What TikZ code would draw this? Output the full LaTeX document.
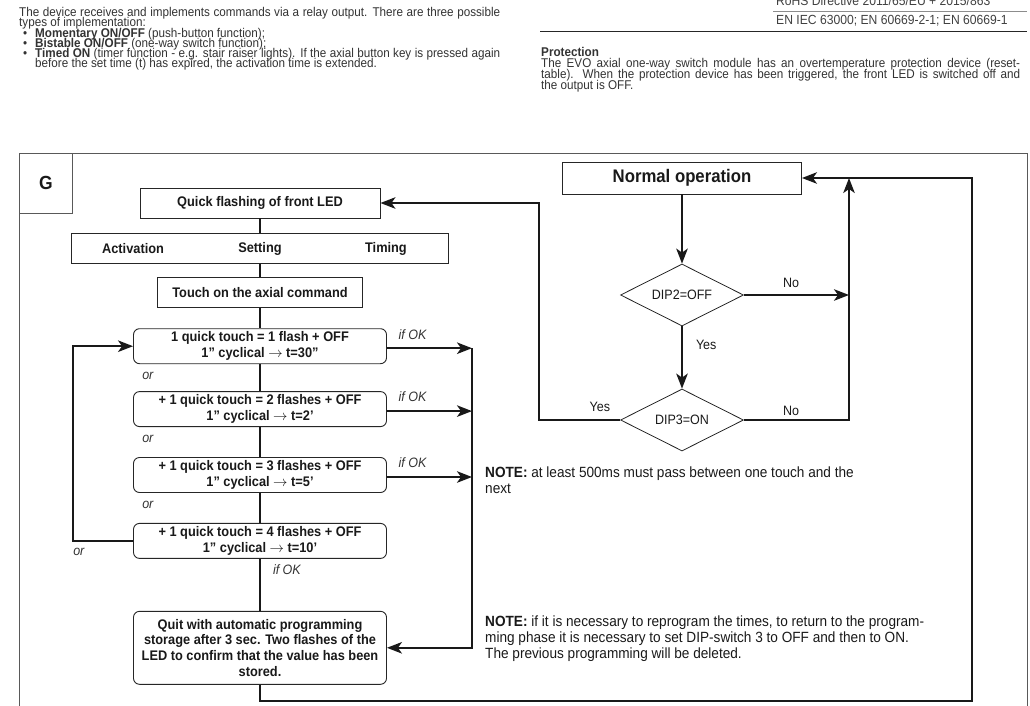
\documentclass[tikz,border=0pt]{standalone}
\usepackage{fontspec}
\setmainfont{Liberation Sans}[FakeStretch=0.92]
\usetikzlibrary{positioning,shapes.geometric,arrows.meta}

\newcommand{\blt}{\makebox[12pt]{•}\hspace{4pt}}

\begin{document}
\begin{tikzpicture}[x = 1pt, y = -1pt,
  every node/.style = {font = {\fontsize{13.9}{15.7}\selectfont\bfseries}, text = black!90, inner sep = 0pt},
  plainbox/.style = {rectangle, draw = black!85, line width = 0.9pt, align = center},
  rbox/.style = {plainbox, rounded corners = 6pt, minimum width = 253pt, minimum height = 35pt},
  dip/.style = {diamond, aspect = 2, draw = black!85, line width = 0.8pt,
    minimum width = 123pt, minimum height = 62pt, font = {\fontsize{13.6}{15}\selectfont}},
  lbl/.style = {font = {\fontsize{13.6}{15}\selectfont}},
  ok/.style = {font = {\fontsize{13.6}{15}\selectfont\itshape}, text = black!80},
  para/.style = {font = {\fontsize{12.7}{10.3}\selectfont\lineskiplimit=-20pt}, text = black!80,
    align = left, anchor = north west},
  note/.style = {font = {\fontsize{14.8}{16}\selectfont}, align = left, anchor = north west},
  wire/.style = {line width = 2pt, draw = black!90},
  arr/.style = {wire, -{Stealth[length = 15pt, width = 11.5pt, inset = 4pt]}},
  border/.style = {line width = 0.9pt, draw = black!65}]

  \useasboundingbox (0,0) rectangle (1030,706);

  \node[para] (Intro) at (19,7) {\makebox[481pt][s]{The device receives and implements commands via a relay output. There are three possible}\\
    types of implementation:\\
    \blt\textbf{Momentary ON/OFF} (push-button function);\\
    \blt\textbf{Bistable ON/OFF} (one-way switch function);\\
    \blt\makebox[465pt][s]{\textbf{Timed ON} (timer function - e.g. stair raiser lights). If the axial button key is pressed again}\\
    \hspace*{16pt}before the set time (t) has expired, the activation time is extended.};
  \begin{scope}
    \clip (0,0) rectangle (1030,706);
    \node[lbl, font = {\fontsize{13.2}{15}\selectfont}, text = black!75, anchor = west] (RoHS) at (776,1) {RoHS Directive 2011/65/EU + 2015/863};
  \end{scope}
  \node[lbl, font = {\fontsize{13.2}{15}\selectfont}, text = black!75, anchor = west] (EN) at (776,21) {EN IEC 63000; EN 60669-2-1; EN 60669-1};
  \draw[line width = 0.8pt, black!45] (773,11.5) -- (1027,11.5);
  \draw[line width = 1.2pt, black!85] (540,31.5) -- (1027,31.5);
  \node[para, font = {\fontsize{12.7}{11}\selectfont\lineskiplimit=-20pt}] (Prot) at (541,47) {\textbf{Protection}\\
    \makebox[479pt][s]{The EVO axial one-way switch module has an overtemperature protection device (reset-}\\
    \makebox[479pt][s]{table). When the protection device has been triggered, the front LED is switched off and}\\
    the output is OFF.};

  \draw[border] (19,706) |- (1027,153) -- (1027,706);
  \node[plainbox, border, minimum width = 53pt, minimum height = 60pt, anchor = north west,
    font = {\fontsize{19}{21}\selectfont\bfseries}] (G) at (19,153) {G};

  \node[plainbox, minimum width = 240pt, minimum height = 30pt] (QF) at (260,203) {Quick flashing of front LED};
  \node[plainbox, minimum width = 377pt, minimum height = 30pt, below = 15pt of QF] (AST) {};
  \node (Act) at ([xshift = 62pt]AST.west) {Activation};
  \node (Set) at (AST) {Setting};
  \node (Tim) at ([xshift = -63pt]AST.east) {Timing};
  \node[plainbox, minimum width = 205pt, minimum height = 30pt, below = 13pt of AST] (TA) {Touch on the axial command};
  \node[rbox, below = 20pt of TA] (T1) {1 quick touch = 1 flash + OFF\\1” cyclical $\rightarrow$ t=30”};
  \node[rbox, below = 27pt of T1] (T2) {+ 1 quick touch = 2 flashes + OFF\\1” cyclical $\rightarrow$ t=2’};
  \node[rbox, below = 30pt of T2] (T3) {+ 1 quick touch = 3 flashes + OFF\\1” cyclical $\rightarrow$ t=5’};
  \node[rbox, below = 30pt of T3] (T4) {+ 1 quick touch = 4 flashes + OFF\\1” cyclical $\rightarrow$ t=10’};
  \node[rbox, minimum height = 73pt, below = 52pt of T4] (QS) {Quit with automatic programming\\
    storage after 3 sec. Two flashes of the\\LED to confirm that the value has been\\stored.};
  \node[ok, anchor = west] (or1) at ([shift = {(9,12)}]T1.south west) {or};
  \node[ok, anchor = west] (or2) at ([shift = {(9,12)}]T2.south west) {or};
  \node[ok, anchor = west] (or3) at ([shift = {(9,12)}]T3.south west) {or};
  \node[ok, anchor = west] (or4) at ([shift = {(-60,11)}]T4.west) {or};

  \node[plainbox, minimum width = 239pt, minimum height = 32pt,
    font = {\fontsize{18.2}{20}\selectfont\bfseries}] (NO) at (682,178) {Normal operation};
  \node[dip] (D2) at (682,295) {DIP2=OFF};
  \node[dip] (D3) at (682,420) {DIP3=ON};

  \node[note] (N1) at (485,467) {\textbf{NOTE:} at least 500ms must pass between one touch and the\\next};
  \node[note] (N2) at (485,616) {\textbf{NOTE:} if it is necessary to reprogram the times, to return to the program-\\
    ming phase it is necessary to set DIP-switch 3 to OFF and then to ON.\\
    The previous programming will be deleted.};

  \coordinate (NoCol) at (849,178);
  \coordinate (YesCol) at (539,203);
  \coordinate (OKCol) at (472,349);
  \coordinate (Back) at (972,701);

  \draw[wire] (QF) -- (AST) -- (TA) -- (T1) -- (T2) -- (T3) -- (T4)
    -- node[ok, pos = 0.2, right = 12pt] {if OK} (QS);
  \draw[arr] ([yshift = -2pt]T1.east) -- node[ok, pos = 0.3, above = 8pt] {if OK} ([yshift = -2pt]T1.east -| OKCol);
  \draw[arr] ([yshift = -2pt]T2.east) -- node[ok, pos = 0.3, above = 8pt] {if OK} ([yshift = -2pt]T2.east -| OKCol);
  \draw[arr] ([yshift = -2pt]T3.east) -- node[ok, pos = 0.3, above = 8pt] {if OK} ([yshift = -2pt]T3.east -| OKCol);
  \draw[arr] ([yshift = -2pt]T1.east -| OKCol) |- (QS.east);
  \draw[arr] (T4.west) -- ++(-60,0) |- (T1.west);

  \draw[arr] (NO) -- (D2);
  \draw[arr] (D2) -- node[lbl, pos = 0.3, right = 13pt] {Yes} (D3);
  \draw[arr] (D2.east) -- node[lbl, pos = 0.45, above = 6.5pt] {No} (D2.east -| NoCol);
  \draw[arr] (D3.east) -- node[lbl, pos = 0.45, above = 3.5pt] {No} (D3.east -| NoCol) -- (NoCol);
  \draw[arr] (D3.west) -- node[lbl, pos = 0.25, above = 7pt] {Yes} (D3.west -| YesCol) -- (YesCol) -- (QF.east);
  \draw[arr] (QS) |- (Back) |- (NO.east);

\end{tikzpicture}
\end{document}
